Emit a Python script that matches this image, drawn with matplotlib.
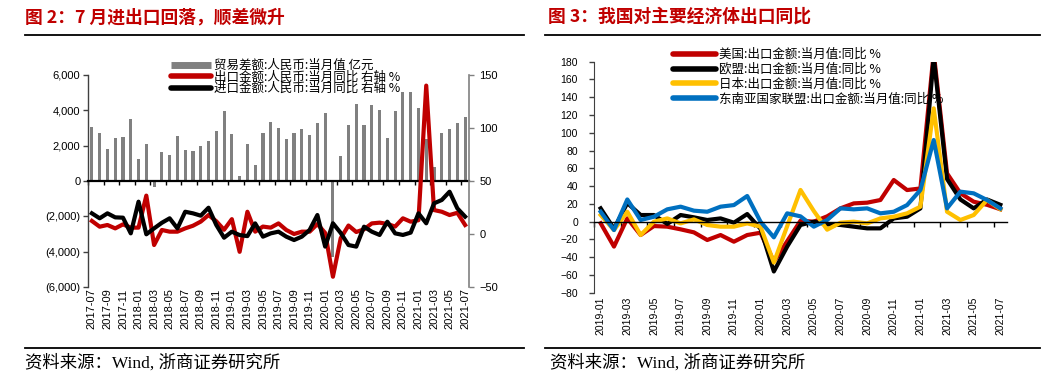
import numpy as np
import pandas as pd
import matplotlib
matplotlib.use("Agg")
import matplotlib.pyplot as plt
from matplotlib.lines import Line2D
from matplotlib.ticker import FuncFormatter

plt.rcParams['font.family'] = ['Liberation Sans', 'Noto Sans CJK SC', 'DejaVu Sans']
plt.rcParams['axes.unicode_minus'] = True

# ---------------- data: chart 2 ----------------
months_left = [d.strftime('%Y-%m') for d in pd.date_range('2017-07-01', '2021-07-01', freq='MS')]
trade_balance = [3040, 2700, 1830, 2420, 2490, 3530, 1230, 2110, -320, 1660, 1450, 2550,
                 1740, 1700, 2000, 2250, 2850, 3940, 2640, 280, 2090, 890, 2740, 3360,
                 3020, 2380, 2700, 2960, 2600, 3300, 3830, -4300, 1400, 3150, 4360, 3150,
                 4280, 4040, 2430, 3940, 5020, 5020, 4130, 2380, 810, 2700, 2920, 3300, 3600]
export_yoy = [12.3, 6.9, 8.5, 5.3, 9.1, 6.0, 6.0, 36.2, -10.4, 3.8, 2.2, 2.2,
              5.3, 7.8, 11.7, 17.9, 12.0, 4.0, 14.0, -16.8, 21.0, 2.2, 7.0, 6.0,
              10.0, 3.8, 0.0, 2.2, 2.2, 9.4, 1.0, -40.3, -4.0, 8.0, 1.9, 4.4,
              10.0, 10.7, 9.5, 7.0, 14.8, 11.6, 13.0, 140.0, 22.6, 21.0, 17.9, 20.0, 8.5]
import_yoy = [19.5, 14.8, 19.5, 15.7, 15.4, 0.6, 30.5, -0.3, 5.3, 10.6, 14.8, 5.3,
              21.0, 19.5, 17.3, 24.8, 8.5, -3.5, 2.2, -1.0, -2.0, 10.0, -2.5, 0.6,
              2.2, -2.5, -5.7, -2.5, 3.8, 17.9, -11.9, 10.1, 1.0, -10.4, -11.9, 6.9,
              2.2, -0.9, 11.6, 0.6, -0.9, 1.3, 19.5, 10.1, 28.9, 32.1, 39.9, 24.2, 16.4]
legend_left = ['贸易差额:人民币:当月值 亿元',
               '出口金额:人民币:当月同比 右轴 %',
               '进口金额:人民币:当月同比 右轴 %']

# ---------------- data: chart 3 ----------------
months_right = [d.strftime('%Y-%m') for d in pd.date_range('2019-01-01', '2021-07-01', freq='MS')]
us_yoy = [-1.8, -28.0, 3.8, -15.0, -4.9, -5.6, -8.6, -12.0, -20.6, -15.0, -22.5, -15.0,
          -12.4, -45.0, -22.0, 1.1, 0.0, 6.0, 15.0, 20.6, 21.4, 24.4, 46.9, 35.6,
          37.4, 190.0, 54.4, 32.0, 22.5, 19.0, 14.0]
eu_yoy = [15.0, -8.0, 21.0, 7.5, 7.5, -2.5, 7.5, 4.9, 1.9, 3.7, -1.1, 8.6,
          -8.0, -56.0, -28.0, -3.7, 0.0, -3.0, -3.7, -5.6, -7.5, -7.5, 3.7, 5.6,
          15.0, 185.0, 48.0, 25.0, 15.0, 25.0, 19.0]
jp_yoy = [7.5, -9.4, 11.2, -15.0, 0.0, 3.7, -1.9, 2.6, -3.7, -5.6, -5.6, -1.9,
          -5.6, -46.0, -5.0, 35.7, 12.0, -9.0, -1.1, 0.0, -1.9, 3.7, 5.6, 9.4,
          16.9, 127.5, 11.2, 1.9, 7.5, 24.4, 14.0]
asean_yoy = [11.2, -9.4, 25.0, 1.9, 5.6, 13.9, 16.9, 12.4, 11.2, 16.9, 18.7, 28.9,
             0.0, -17.6, 9.4, 6.0, -5.6, 1.9, 15.0, 13.9, 15.0, 9.4, 11.2, 18.7,
             35.7, 91.9, 15.0, 33.8, 31.9, 24.4, 15.0]
legend_right = ['美国:出口金额:当月值:同比 %',
                '欧盟:出口金额:当月值:同比 %',
                '日本:出口金额:当月值:同比 %',
                '东南亚国家联盟:出口金额:当月值:同比 %']

titles = ['图 2：7 月进出口回落，顺差微升', '图 3：我国对主要经济体出口同比']
source = '资料来源：Wind, 浙商证券研究所'

RED = '#C00000'
GRAY = '#808080'
YELLOW = '#FFC000'
BLUE = '#0070C0'
CJK = ['Noto Sans CJK SC', 'DejaVu Sans']
SERIF_CJK = ['Liberation Serif', 'Noto Sans CJK SC', 'DejaVu Sans']

W, H = 1053, 384
fig = plt.figure(figsize=(W / 100, H / 100), dpi=100)

# ================= left chart =================
ax1 = fig.add_axes([88 / W, 1 - 287 / H, 381 / W, 212 / H])
x1 = np.arange(len(months_left))
ax1.bar(x1, trade_balance, width=0.4, color=GRAY, zorder=2)
ax1.set_xlim(-0.5, len(months_left) - 0.5)
ax1.set_ylim(-6000, 6000)
ax1.set_yticks(np.arange(-6000, 6001, 2000))


def paren_fmt(v, pos):
    if v < 0:
        return '({:,.0f})'.format(-v)
    return '{:,.0f}'.format(v)


ax1.yaxis.set_major_formatter(FuncFormatter(paren_fmt))
ax1.tick_params(axis='y', direction='out', length=3.5, width=1, color='#404040',
                labelsize=8, pad=2)
for s in ['top', 'right']:
    ax1.spines[s].set_visible(False)
ax1.spines['left'].set_color('#404040')
ax1.spines['left'].set_linewidth(1)
ax1.spines['bottom'].set_position(('data', 0))
ax1.spines['bottom'].set_linewidth(1.6)
ax1.spines['bottom'].set_zorder(3)
ax1.set_xticks(np.arange(0, len(months_left), 2) - 0.5)
ax1.tick_params(axis='x', direction='out', length=3, width=1, labelbottom=False)
sec1 = ax1.secondary_xaxis('bottom')
sec1.set_xticks(x1[::2])
sec1.set_xticklabels(months_left[::2], rotation=90, fontsize=8)
sec1.tick_params(length=0, pad=1)
sec1.spines['bottom'].set_visible(False)

ax2 = ax1.twinx()
ax2.plot(x1, export_yoy, color=RED, lw=3, solid_joinstyle='round')
ax2.plot(x1, import_yoy, color='black', lw=3, solid_joinstyle='round')
ax2.set_ylim(-50, 150)
ax2.set_yticks([-50, 0, 50, 100, 150])
ax2.tick_params(axis='y', direction='out', length=3.5, width=1, color=GRAY,
                labelsize=8, pad=4)
for s in ['top', 'left', 'bottom']:
    ax2.spines[s].set_visible(False)
ax2.spines['right'].set_color(GRAY)
ax2.spines['right'].set_linewidth(1.2)

h_left = [Line2D([], [], color=GRAY, lw=5, solid_capstyle='butt'),
          Line2D([], [], color=RED, lw=4, solid_capstyle='round'),
          Line2D([], [], color='black', lw=4, solid_capstyle='round')]
fig.legend(h_left, legend_left, loc='upper left',
           bbox_to_anchor=(171 / W, 1 - 59 / H), frameon=False,
           prop={'family': CJK, 'size': 9}, handlelength=3.2, handletextpad=0.25,
           labelspacing=-0.12, borderpad=0, borderaxespad=0)

# ================= right chart =================
ax3 = fig.add_axes([594 / W, 1 - 292.8 / H, 413 / W, 231.1 / H])
x3 = np.arange(len(months_right))
for vals, col in [(us_yoy, RED), (eu_yoy, 'black'), (jp_yoy, YELLOW), (asean_yoy, BLUE)]:
    ax3.plot(x3, vals, color=col, lw=3, solid_joinstyle='round')
ax3.set_xlim(-0.5, len(months_right) - 0.5)
ax3.set_ylim(-80, 180)
ax3.set_yticks(np.arange(-80, 181, 20))
ax3.tick_params(axis='y', direction='out', length=3.5, width=1, color='#404040',
                labelsize=7.5, pad=8)
for s in ['top', 'right']:
    ax3.spines[s].set_visible(False)
ax3.spines['left'].set_color('#404040')
ax3.spines['bottom'].set_position(('data', 0))
ax3.spines['bottom'].set_linewidth(1)
ax3.set_xticks(np.arange(0, len(months_right), 2) - 0.5)
ax3.tick_params(axis='x', direction='out', length=3.5, width=1, labelbottom=False)
sec3 = ax3.secondary_xaxis('bottom')
sec3.set_xticks(x3[::2])
sec3.set_xticklabels(months_right[::2], rotation=90, fontsize=7.5)
sec3.tick_params(length=0, pad=3)
sec3.spines['bottom'].set_visible(False)

h_right = [Line2D([], [], color=c, lw=4, solid_capstyle='round')
           for c in [RED, 'black', YELLOW, BLUE]]
fig.legend(h_right, legend_right, loc='upper left',
           bbox_to_anchor=(673 / W, 1 - 48 / H), frameon=False,
           prop={'family': CJK, 'size': 9}, handlelength=3.4, handletextpad=0.25,
           labelspacing=0.15, borderpad=0, borderaxespad=0)

# ================= titles, rules, sources =================
fig.text(25 / W, 1 - 17 / H, titles[0], color=RED, fontsize=12.8, fontweight='bold',
         va='center', ha='left', family=CJK)
fig.text(548 / W, 1 - 17 / H, titles[1], color=RED, fontsize=12.8, fontweight='bold',
         va='center', ha='left', family=CJK)
for (xa, xb) in [(25, 524), (545, 1040)]:
    fig.add_artist(Line2D([xa / W, xb / W], [1 - 35 / H, 1 - 35 / H],
                          transform=fig.transFigure, color='black', lw=1.3))
    fig.add_artist(Line2D([xa / W, xb / W], [1 - 348 / H, 1 - 348 / H],
                          transform=fig.transFigure, color='black', lw=1.3))
fig.text(25 / W, 1 - 363 / H, source, fontsize=12.5, va='center', ha='left', family=SERIF_CJK)
fig.text(550 / W, 1 - 363 / H, source, fontsize=12.5, va='center', ha='left', family=SERIF_CJK)

fig.savefig('out.png', dpi=100)
